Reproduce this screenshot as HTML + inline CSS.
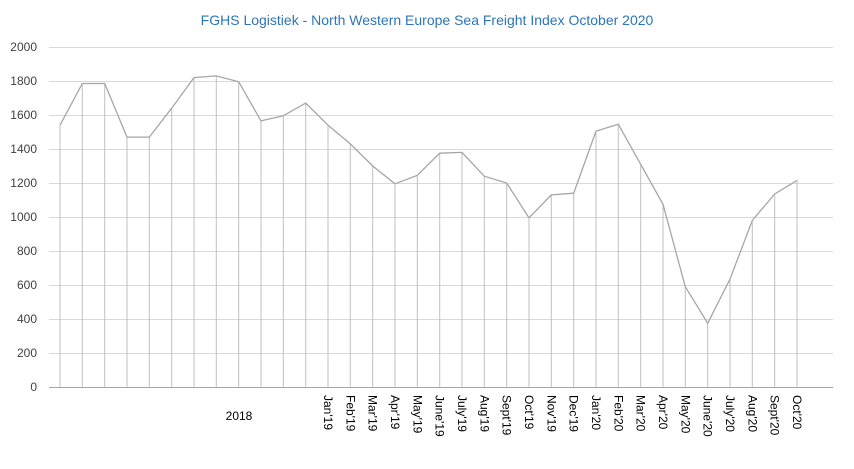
<!DOCTYPE html>
<html><head><style>body{margin:0;background:#fff}svg{display:block}</style></head><body>
<svg width="854" height="469" xmlns="http://www.w3.org/2000/svg" font-family="Liberation Sans, sans-serif">
<rect width="854" height="469" fill="#fff"/>
<text x="427" y="25" text-anchor="middle" font-size="14" fill="#2e75b6">FGHS Logistiek - North Western Europe Sea Freight Index October 2020</text>
<g id="grid" stroke="#d9d9d9" stroke-width="1"></g>
<g id="ylab" font-size="12" fill="#404040" text-anchor="end"></g>
<g id="drops" stroke="#bfbfbf" stroke-width="1"></g>
<polyline id="line" fill="none" stroke="#a6a6a6" stroke-width="1.3"/>
<line x1="49" y1="387.5" x2="833" y2="387.5" stroke="#a6a6a6"/>
<g id="xlab" font-size="12" fill="#000"></g>
<text x="239" y="420" text-anchor="middle" font-size="12" fill="#000">2018</text>
</svg>
<script>
var ns="http://www.w3.org/2000/svg";
function el(t,a,p,txt){var e=document.createElementNS(ns,t);for(var k in a)e.setAttribute(k,a[k]);if(txt!==undefined)e.textContent=String(txt);document.getElementById(p).appendChild(e);}
for(var v=200;v<=2000;v+=200){var y=387-v*0.17;el('line',{x1:49,x2:833,y1:y+0.5,y2:y+0.5},'grid');}
for(var v=0;v<=2000;v+=200){var y=387-v*0.17;el('text',{x:37,y:y+4},'ylab',v);}
var d=[1540,1785,1785,1470,1470,1640,1820,1830,1795,1565,1595,1670,1540,1430,1300,1195,1245,1375,1380,1240,1200,995,1130,1140,1505,1545,1310,1075,590,375,635,980,1135,1215];
var labs=["Jan'19","Feb'19","Mar'19","Apr'19","May'19","June'19","July'19","Aug'19","Sept'19","Oct'19","Nov'19","Dec'19","Jan'20","Feb'20","Mar'20","Apr'20","May'20","June'20","July'20","Aug'20","Sept'20","Oct'20"];
var pts=[];
for(var i=0;i<d.length;i++){var x=60+i*(737/33),y=387-d[i]*0.17;pts.push(x.toFixed(1)+","+y.toFixed(1));
el('line',{x1:x.toFixed(1),x2:x.toFixed(1),y1:y,y2:387},'drops');
if(i>=12){el('text',{transform:'translate('+(x-4).toFixed(1)+',395) rotate(90)'},'xlab',labs[i-12]);}}
document.getElementById('line').setAttribute('points',pts.join(' '));
</script>
</body></html>
